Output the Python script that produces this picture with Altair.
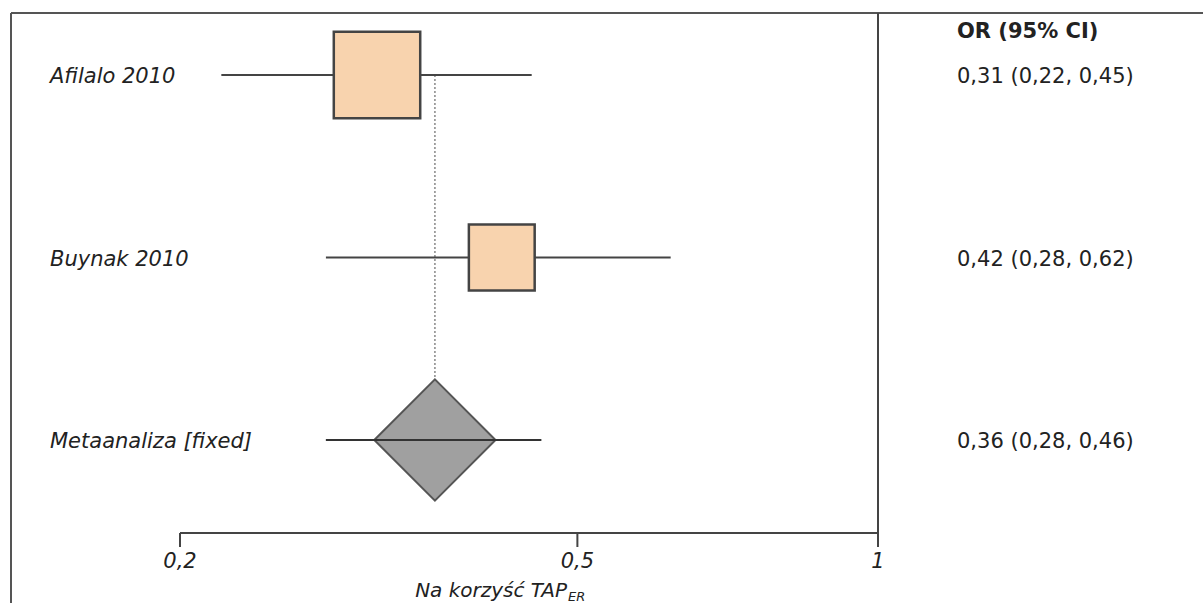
import math
import altair as alt
import pandas as pd

# ---------------- data ----------------
study_labels = ["Afilalo 2010", "Buynak 2010"]
study_or = [0.315, 0.42]
study_lo = [0.22, 0.28]
study_hi = [0.45, 0.62]
study_weight = [63.3, 36.7]

pooled_label = "Metaanaliza [fixed]"
pooled_or = 0.36
pooled_lo = 0.28
pooled_hi = 0.46

or_texts = ["0,31 (0,22, 0,45)", "0,42 (0,28, 0,62)", "0,36 (0,28, 0,46)"]
header_text = "OR (95% CI)"

tick_values = [0.2, 0.5, 1.0]
tick_labels = ["0,2", "0,5", "1"]
axis_title_main = "Na korzyść TAP"
axis_title_sub = "ER"

# ---------------- layout ----------------
W, H = 1203, 603
PX_LO, PX_HI = 180, 878          # pixel positions of 0.2 and 1
ppu = (PX_HI - PX_LO) / math.log(1.0 / 0.2)
x_dom = [0.2 * math.exp(-PX_LO / ppu), 0.2 * math.exp((W - PX_LO) / ppu)]
ROW0, ROWSTEP = 75, 182.5
y_dom = [-ROW0 / ROWSTEP, (H - ROW0) / ROWSTEP]
AXIS_Y = 533
FONT = "DejaVu Sans"
TXT = "#222222"
LINE = "#444444"

xscale = alt.Scale(type="log", domain=x_dom, nice=False, zero=False)
yscale = alt.Scale(domain=y_dom, reverse=True)

studies = pd.DataFrame({
    "label": study_labels,
    "row": list(range(len(study_labels))),
    "or": study_or, "lo": study_lo, "hi": study_hi,
    "w": study_weight,
})
pooled = pd.DataFrame({
    "label": [pooled_label], "row": [len(study_labels)],
    "or": [pooled_or], "lo": [pooled_lo], "hi": [pooled_hi],
})
allrows = pd.concat([studies, pooled], ignore_index=True)
allrows["txt"] = or_texts
ticks = pd.DataFrame({"v": tick_values, "lab": tick_labels})
axis_span = pd.DataFrame({"a": [min(tick_values)], "b": [max(tick_values)]})
dotted = pd.DataFrame({"v": [pooled_or], "r0": [0], "r1": [len(study_labels)]})
dummy = pd.DataFrame({"k": [0]})

X = lambda f: alt.X(f, scale=xscale, axis=None)
Y = lambda f: alt.Y(f, scale=yscale, axis=None)

# frame lines
frame_top = alt.Chart(dummy).mark_rule(color="#555555", strokeWidth=2).encode(
    x=alt.value(11), x2=alt.value(W), y=alt.value(13))
frame_left = alt.Chart(dummy).mark_rule(color="#555555", strokeWidth=2).encode(
    x=alt.value(11), y=alt.value(13), y2=alt.value(H))
null_line = alt.Chart(pd.DataFrame({"v": [1.0]})).mark_rule(color=LINE, strokeWidth=2).encode(
    x=X("v:Q"), y=alt.value(13), y2=alt.value(AXIS_Y + 14))

# axis
axis_line = alt.Chart(axis_span).mark_rule(color=LINE, strokeWidth=2).encode(
    x=X("a:Q"), x2="b:Q", y=alt.value(AXIS_Y))
axis_ticks = alt.Chart(ticks).mark_rule(color=LINE, strokeWidth=2).encode(
    x=X("v:Q"), y=alt.value(AXIS_Y), y2=alt.value(AXIS_Y + 14))
axis_labels = alt.Chart(ticks).mark_text(
    font=FONT, fontSize=21, fontStyle="italic", color=TXT, align="center", baseline="middle"
).encode(x=X("v:Q"), y=alt.value(AXIS_Y + 29), text="lab:N")
title_main = alt.Chart(dummy).mark_text(
    font=FONT, fontSize=20, fontStyle="italic", color=TXT, align="right", baseline="alphabetic"
).encode(x=alt.value(567), y=alt.value(597), text=alt.value(axis_title_main))
title_sub = alt.Chart(dummy).mark_text(
    font=FONT, fontSize=13, fontStyle="italic", color=TXT, align="left", baseline="alphabetic"
).encode(x=alt.value(568), y=alt.value(601), text=alt.value(axis_title_sub))

# dotted pooled line
dot_line = alt.Chart(dotted).mark_rule(color="#888888", strokeWidth=1.5, strokeDash=[2, 2]).encode(
    x=X("v:Q"), y=Y("r0:Q"), y2="r1:Q")

# CI lines
ci = alt.Chart(allrows).mark_rule(color=LINE, strokeWidth=2).encode(
    x=X("lo:Q"), x2="hi:Q", y=Y("row:Q"))

# study squares
squares = alt.Chart(studies).mark_square(
    filled=True, fill="#f8d3ae", stroke="#444444", strokeWidth=2.5, opacity=1
).encode(
    x=X("or:Q"), y=Y("row:Q"),
    size=alt.Size("w:Q", scale=alt.Scale(domain=[0, 100], range=[0, 11800], zero=True), legend=None),
)

# pooled diamond
diamond = alt.Chart(pooled).mark_point(
    shape="diamond", filled=True, fill="#a0a0a0", stroke="#555555", strokeWidth=2, opacity=1, size=14700
).encode(x=X("or:Q"), y=Y("row:Q"))
diamond_ci = alt.Chart(pooled).mark_rule(color="#333333", strokeWidth=2).encode(
    x=X("lo:Q"), x2="hi:Q", y=Y("row:Q"))

# texts
labels = alt.Chart(allrows).mark_text(
    font=FONT, fontSize=21, fontStyle="italic", color=TXT, align="left", baseline="middle", dy=2
).encode(x=alt.value(50), y=Y("row:Q"), text="label:N")
values = alt.Chart(allrows).mark_text(
    font=FONT, fontSize=21, color=TXT, align="left", baseline="middle", dy=2
).encode(x=alt.value(957), y=Y("row:Q"), text="txt:N")
header = alt.Chart(dummy).mark_text(
    font=FONT, fontSize=21, fontWeight="bold", color=TXT, align="left", baseline="middle"
).encode(x=alt.value(957), y=alt.value(32), text=alt.value(header_text))

chart = alt.layer(
    frame_top, frame_left, null_line, axis_line, axis_ticks, axis_labels, title_main, title_sub,
    dot_line, ci, squares, diamond, diamond_ci, labels, values, header,
).properties(
    width=W, height=H, autosize=alt.AutoSizeParams(type="none"), padding=0, background="white"
).configure_view(stroke=None)

chart.save("out.html", embed_options={"renderer": "svg", "actions": False})
